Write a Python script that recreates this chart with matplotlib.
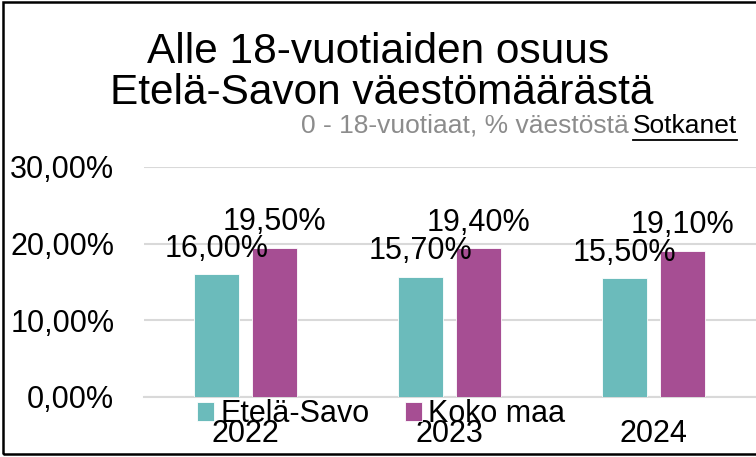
import matplotlib
matplotlib.use("Agg")
import matplotlib.pyplot as plt
import numpy as np
from matplotlib.patches import Rectangle
from matplotlib.lines import Line2D
from matplotlib.ticker import FuncFormatter

# -----------------------------
# Data
# -----------------------------

years = ["2022", "2023", "2024"]
etela_savo = [16.0, 15.7, 15.5]
koko_maa = [19.5, 19.4, 19.1]
series_names = ["Etelä-Savo", "Koko maa"]

TEAL = "#6bbbbb"
PURPLE = "#a64e93"
GRID = "#d9d9d9"

plt.rcParams["font.family"] = ["Liberation Sans", "DejaVu Sans"]


def pct(v):
    return f"{v:.2f}%".replace(".", ",")


# -----------------------------
# Figure
# -----------------------------

W, H = 756, 457
fig = plt.figure(figsize=(W / 100, H / 100), dpi=100)
ax = fig.add_axes([143.5 / W, (H - 397) / H, (756 - 143.5) / W, (397 - 167) / H])

x = np.arange(len(years))
bw = 0.22
off = 0.142

b1 = ax.bar(x - off, etela_savo, bw, color=TEAL, edgecolor="white", linewidth=0.6,
            label=series_names[0], zorder=3)
b2 = ax.bar(x + off, koko_maa, bw, color=PURPLE, edgecolor="white", linewidth=0.6,
            label=series_names[1], zorder=3)

for bars, vals in ((b1, etela_savo), (b2, koko_maa)):
    for rect, v in zip(bars, vals):
        ax.annotate(pct(v), (rect.get_x() + rect.get_width() / 2, v),
                    xytext=(0, 12.5), textcoords="offset points",
                    ha="center", va="baseline", fontsize=22, zorder=4)

ax.set_xlim(-0.5, 2.5)
ax.set_ylim(0, 30)
ax.set_yticks([0, 10, 20, 30])
ax.yaxis.set_major_formatter(FuncFormatter(lambda v, p: pct(v)))
ax.set_xticks(x)
ax.set_xticklabels(years)

ax.grid(axis="y", color=GRID, linewidth=1.5, zorder=0)
for s in ("top", "right", "left"):
    ax.spines[s].set_visible(False)
ax.spines["bottom"].set_color(GRID)
ax.spines["bottom"].set_linewidth(1.5)
ax.tick_params(axis="both", length=0, labelsize=22)
ax.tick_params(axis="y", pad=21)
ax.tick_params(axis="x", pad=16)

# -----------------------------
# Titles
# -----------------------------

fig.text(378 / W, (H - 63) / H, "Alle 18-vuotiaiden osuus", ha="center",
         va="baseline", fontsize=30.5)
fig.text(382 / W, (H - 104) / H, "Etelä-Savon väestömäärästä", ha="center",
         va="baseline", fontsize=30.5)

src = fig.text(737 / W, (H - 133) / H, "Sotkanet", ha="right", va="baseline",
               fontsize=19, color="black")
renderer = fig.canvas.get_renderer()
bb = src.get_window_extent(renderer)
fig.text((bb.x0 - 4) / W, (H - 133) / H, "0 - 18-vuotiaat, % väestöstä",
         ha="right", va="baseline", fontsize=19, color="#8c8c8c")
fig.add_artist(Line2D([bb.x0 / W, bb.x1 / W], [(H - 140) / H, (H - 140) / H],
                      transform=fig.transFigure, color="black", linewidth=1.3))

# -----------------------------
# Legend
# -----------------------------

fig.legend(loc="center", bbox_to_anchor=(381 / W, (H - 414.5) / H), ncol=2,
           frameon=False, fontsize=22, handlelength=0.56, handleheight=0.56,
           handletextpad=0.2, columnspacing=1.15, borderpad=0, borderaxespad=0)

# -----------------------------
# Border
# -----------------------------

fig.add_artist(Rectangle((3 / W, 3 / H), 1.0, (H - 5) / H, transform=fig.transFigure,
                         fill=False, edgecolor="black", linewidth=1.8))

fig.savefig("out.png", dpi=100)
